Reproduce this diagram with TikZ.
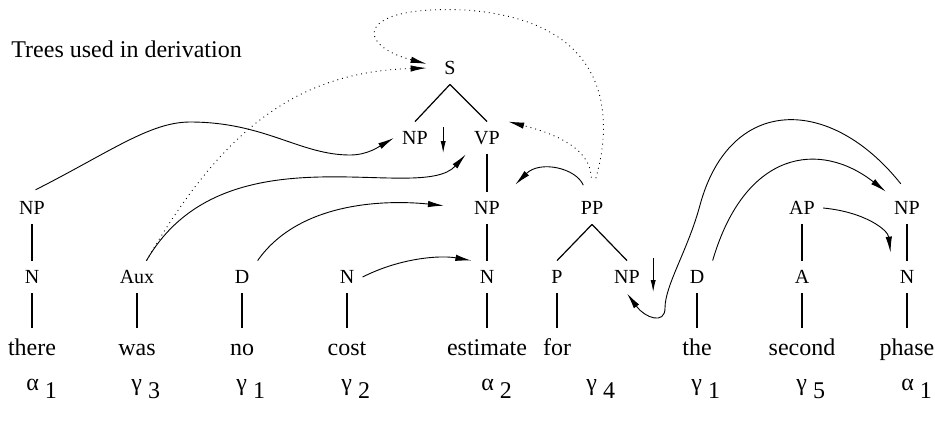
\documentclass[tikz,border=0pt]{standalone}
\usepackage{fontspec}
\setmainfont{Liberation Serif}
\usetikzlibrary{arrows.meta}

\newcommand{\treename}[2]{#1\hspace{3pt}\raisebox{-4pt}{#2}}

\begin{document}
\begin{tikzpicture}[x=0.5pt, y=-0.5pt,
	cat/.style={font=\fontsize{10}{12}\selectfont, inner xsep=4pt, inner ysep=4.6pt, text height=6.8pt, text depth=0pt},
	word/.style={font=\fontsize{12}{14}\selectfont, anchor=base, inner xsep=0pt, inner ysep=5pt, text height=8.5pt, text depth=2.5pt},
	tname/.style={font=\fontsize{12}{14}\selectfont, anchor=base west, inner sep=0pt},
	branch/.style={draw=black, line width=0.6pt},
	link/.style={draw=black, line width=0.45pt, -{Latex[length=8pt,width=3.2pt]}},
	hint/.style={link, dotted},
	subst/.style={draw=black, line width=0.45pt, -{Latex[length=6pt,width=2.6pt]}}]
	\useasboundingbox (0,0) rectangle (935,430);

	\node[anchor=base west, inner sep=0pt, font=\fontsize{12}{14}\selectfont] (title) at (11,57) {Trees used in derivation};

	% elementary trees
	\node[cat, minimum width=23pt] (s) at (450,68) {S};
	\node[cat] (snp) at (415,138) {NP};
	\node[cat] (vp) at (487,138) {VP};
	\node[cat] (np1) at (32,208) {NP};
	\node[cat] (np2) at (487,208) {NP};
	\node[cat] (pp) at (592,208) {PP};
	\node[cat] (ap) at (802,208) {AP};
	\node[cat] (np3) at (907,208) {NP};
	\node[cat] (n1) at (32,277) {N};
	\node[cat] (aux) at (137,277) {Aux};
	\node[cat] (d1) at (242,277) {D};
	\node[cat] (n2) at (347,277) {N};
	\node[cat] (n3) at (487,277) {N};
	\node[cat] (p) at (557,277) {P};
	\node[cat] (ppnp) at (627,277) {NP};
	\node[cat] (d2) at (697,277) {D};
	\node[cat] (a) at (802,277) {A};
	\node[cat] (n4) at (907,277) {N};

	\node[word] (w1) at (32,355) {there};
	\node[word] (w2) at (137,355) {was};
	\node[word] (w3) at (242,355) {no};
	\node[word] (w4) at (347,355) {cost};
	\node[word] (w5) at (487,355) {estimate};
	\node[word] (w6) at (557,355) {for};
	\node[word] (w7) at (697,355) {the};
	\node[word] (w8) at (802,355) {second};
	\node[word] (w9) at (907,355) {phase};

	\node[tname] (t1) at (26,390) {\treename{α}{1}};
	\node[tname] (t2) at (131,390) {\treename{γ}{3}};
	\node[tname] (t3) at (236,390) {\treename{γ}{1}};
	\node[tname] (t4) at (341,390) {\treename{γ}{2}};
	\node[tname] (t5) at (481,390) {\treename{α}{2}};
	\node[tname] (t6) at (586,390) {\treename{γ}{4}};
	\node[tname] (t7) at (691,390) {\treename{γ}{1}};
	\node[tname] (t8) at (796,390) {\treename{γ}{5}};
	\node[tname] (t9) at (901,390) {\treename{α}{1}};

	\draw[branch] (s.south) -- (snp.north);
	\draw[branch] (s.south) -- (vp.north);
	\draw[branch] (vp) -- (np2);
	\draw[branch] (np2) -- (n3);
	\draw[branch] (n3) -- (w5);
	\draw[branch] (np1) -- (n1);
	\draw[branch] (n1) -- (w1);
	\draw[branch] (aux) -- (w2);
	\draw[branch] (d1) -- (w3);
	\draw[branch] (n2) -- (w4);
	\draw[branch] (pp.south) -- (p.north);
	\draw[branch] (pp.south) -- (ppnp.north);
	\draw[branch] (p) -- (w6);
	\draw[branch] (d2) -- (w7);
	\draw[branch] (ap) -- (a);
	\draw[branch] (a) -- (w8);
	\draw[branch] (np3) -- (n4);
	\draw[branch] (n4) -- (w9);

	% substitution sites
	\draw[subst] ([xshift=3.5pt,yshift=5.5pt]snp.east) -- ++(0,26);
	\draw[subst] ([xshift=2.5pt,yshift=9.5pt]ppnp.east) -- ++(0,34);

	% derivation links
	\draw[link, shorten <=2pt] (np1.north) .. controls (110,152) and (150,122) .. (190,122)
		.. controls (265,122) and (300,155) .. (350,155)
		.. controls (368,155) and (380,146) .. (snp.west);
	\draw[link] (aux.60) .. controls (225,125) and (420,205) .. (vp.south west);
	\draw[link, shorten >=11pt] (d1.north east) .. controls (300,200) and (390,200) .. (np2.west);
	\draw[link] (n2.east) .. controls (400,258) and (440,255) .. (n3.north west);
	\draw[link, shorten <=3.5pt, shorten >=5pt] (pp.110) .. controls (576,168) and (540,160) .. (np2.north east);
	\draw[link, shorten <=5pt] (np3.north) .. controls (830,95) and (730,95) .. (700,205)
		.. controls (688,250) and (665,285) .. (665,308)
		.. controls (665,325) and (645,318) .. (ppnp.south);
	\draw[link] (d2.north east) .. controls (745,150) and (820,140) .. (np3.north west);
	\draw[link, shorten >=4pt] (ap.east) .. controls (865,212) and (888,230) .. (n4.north west);

	\draw[hint] (aux.60) .. controls (225,125) and (300,72) .. (s.west);
	\draw[hint, shorten <=7pt] (pp.north) .. controls (590,150) and (560,135) .. (vp.north east);
	\draw[hint, shorten <=7pt] (pp.north) .. controls (614,115) and (610,20) .. (465,10)
		.. controls (355,5) and (355,45) .. (s.170);
\end{tikzpicture}
\end{document}
